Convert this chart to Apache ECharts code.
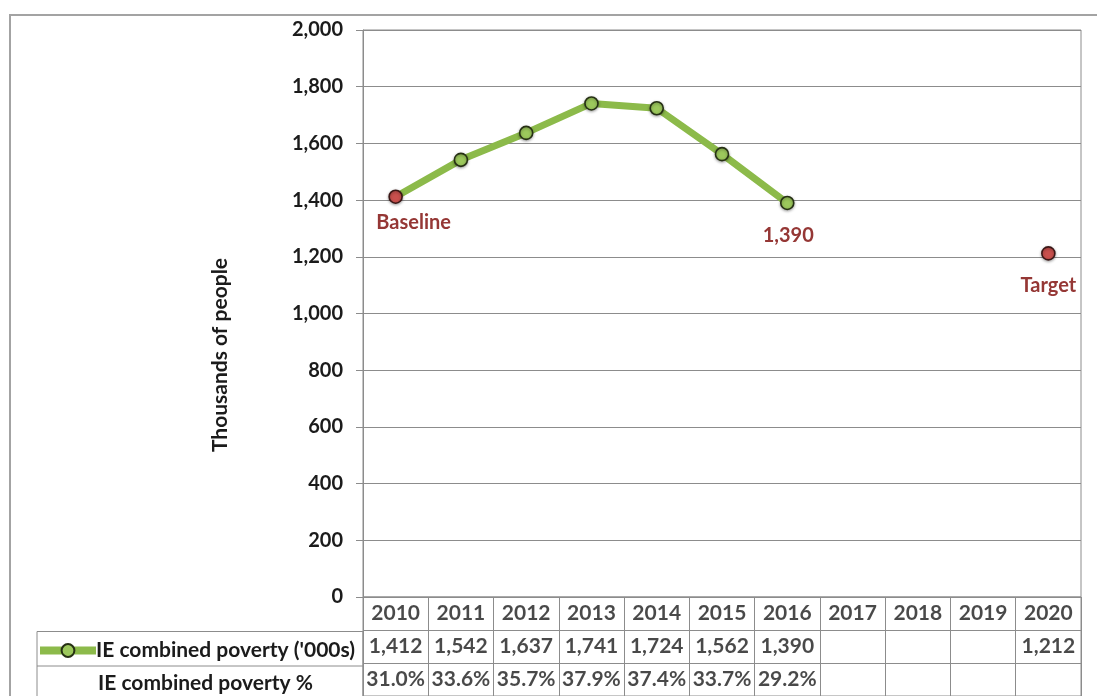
<!DOCTYPE html>
<html>
<head>
<meta charset="utf-8">
<title>IE combined poverty</title>
<script src="https://cdn.jsdelivr.net/npm/echarts@6/dist/echarts.min.js"></script>
<style>
  html, body { margin: 0; padding: 0; background: #ffffff; }
  #chart { width: 1097px; height: 696px; }
</style>
</head>
<body>
<div id="chart"></div>
<script>
// ---- data ----
const years = ['2010', '2011', '2012', '2013', '2014', '2015', '2016', '2017', '2018', '2019', '2020'];
const povertyThousands = [1412, 1542, 1637, 1741, 1724, 1562, 1390, null, null, null, 1212];
const povertyPct = [31.0, 33.6, 35.7, 37.9, 37.4, 33.7, 29.2, null, null, null, null];
const seriesName = "IE combined poverty ('000s)";
const pctRowName = 'IE combined poverty %';
const axisTitle = 'Thousands of people';
const yMin = 0, yMax = 2000, yStep = 200;
// notes written under particular points (index -> text; '' means show the value)
const pointNotes = { 0: 'Baseline', 6: '', 10: 'Target' };
const redPoints = [0, 10];

// ---- styles ----
const FONT = 'Lato';
const FS = 21;
const GRID_GRAY = '#8c8c8c';
const TEXT = '#1b1b1b';
const NOTE_RED = '#953735';
const GREEN = '#8cba4a';
const GREEN_DOT = '#9cc85c';
const RED_DOT = '#c9504d';

const fmtNum = v => (v == null ? '' : v.toLocaleString('en-US'));
const fmtPct = v => (v == null ? '' : v.toFixed(1) + '%');

const noteOffsets = { 0: [18, 4], 6: [1, 10], 10: [0, 10] };

const lineData = povertyThousands.map((v, i) => {
  const item = { value: v };
  if (redPoints.includes(i)) {
    item.itemStyle = { color: RED_DOT, borderColor: '#3b1716' };
  }
  if (i in pointNotes) {
    item.label = {
      show: true,
      position: 'bottom',
      offset: noteOffsets[i],
      formatter: pointNotes[i] === '' ? fmtNum(v) : pointNotes[i],
      color: NOTE_RED,
      fontFamily: FONT,
      fontWeight: 'bold',
      fontSize: 20
    };
  }
  return item;
});

// table cells beneath the plot: row 0 = years, row 1 = values, row 2 = percentages
const tableCells = [];
years.forEach((y, i) => {
  tableCells.push([i, 0, y]);
  tableCells.push([i, 1, fmtNum(povertyThousands[i])]);
  tableCells.push([i, 2, fmtPct(povertyPct[i])]);
});

const PLOT_L = 363, PLOT_R = 16, PLOT_T = 30, PLOT_B = 597;
const ROW_H = 34.5;

const chart = echarts.init(document.getElementById('chart'), null, { renderer: 'canvas' });

chart.setOption({
  backgroundColor: '#ffffff',
  animation: false,
  textStyle: { fontFamily: FONT },
  grid: [
    { left: PLOT_L, right: PLOT_R, top: PLOT_T, height: PLOT_B - PLOT_T,
      show: true, borderColor: GRID_GRAY, borderWidth: 1, containLabel: false },
    { left: PLOT_L, right: PLOT_R, top: PLOT_B, height: ROW_H * 3,
      show: true, borderColor: GRID_GRAY, borderWidth: 1, containLabel: false }
  ],
  legend: {
    left: 36, top: 640, padding: 0,
    itemWidth: 56, itemHeight: 16, itemGap: 0,
    selectedMode: false,
    data: [seriesName],
    lineStyle: { width: 8 },
    textStyle: { color: TEXT, fontFamily: FONT, fontWeight: 'bold', fontSize: FS, padding: [0, 0, 0, -5] }
  },
  xAxis: [
    { type: 'category', gridIndex: 0, data: years, boundaryGap: true,
      axisLine: { show: false }, axisTick: { show: false },
      axisLabel: { show: false }, splitLine: { show: false } },
    { type: 'category', gridIndex: 1, data: years, boundaryGap: true,
      axisLine: { show: false }, axisTick: { show: false },
      axisLabel: { show: false },
      splitLine: { show: true, lineStyle: { color: GRID_GRAY, width: 1 } } }
  ],
  yAxis: [
    { type: 'value', gridIndex: 0, min: yMin, max: yMax, interval: yStep,
      axisLine: { show: true, lineStyle: { color: GRID_GRAY, width: 1 } },
      axisTick: { show: true, length: 7, inside: false, lineStyle: { color: GRID_GRAY } },
      axisLabel: { margin: 20, color: TEXT, fontFamily: FONT, fontWeight: 'bold', fontSize: 20,
        formatter: v => v.toLocaleString('en-US') },
      splitLine: { show: true, lineStyle: { color: GRID_GRAY, width: 1 } } },
    { type: 'category', gridIndex: 1, data: ['year', 'value', 'pct'], inverse: true,
      boundaryGap: true,
      axisLine: { show: false }, axisTick: { show: false }, axisLabel: { show: false },
      splitLine: { show: true, lineStyle: { color: GRID_GRAY, width: 1 } } }
  ],
  series: [
    {
      name: seriesName,
      type: 'line',
      xAxisIndex: 0, yAxisIndex: 0,
      data: lineData,
      connectNulls: false,
      symbol: 'circle',
      symbolSize: 13,
      showAllSymbol: true,
      lineStyle: { color: GREEN, width: 7 },
      itemStyle: { color: GREEN_DOT, borderColor: '#263014', borderWidth: 1.6,
        shadowColor: 'rgba(0,0,0,0.35)', shadowBlur: 3, shadowOffsetY: 1 },
      emphasis: { disabled: true },
      z: 5
    },
    {
      name: 'table',
      type: 'scatter',
      xAxisIndex: 1, yAxisIndex: 1,
      data: tableCells,
      symbolSize: 0,
      silent: true,
      label: {
        show: true, position: 'inside',
        formatter: p => p.value[2],
        color: TEXT, fontFamily: FONT, fontWeight: 'bold', fontSize: FS
      },
      emphasis: { disabled: true }
    }
  ],
  graphic: [
    // outer chart frame
    { type: 'rect', shape: { x: 10, y: 15, width: 1200, height: 800 },
      style: { fill: 'none', stroke: '#a3a3a3', lineWidth: 2 }, silent: true },
    // vertical axis title
    { type: 'text', x: 220, y: 355, rotation: Math.PI / 2,
      style: { text: axisTitle, fill: TEXT, font: 'bold 21px ' + FONT,
        align: 'center', verticalAlign: 'middle' }, silent: true },
    // row-header cells of the data table
    { type: 'rect', shape: { x: 37, y: PLOT_B + ROW_H, width: PLOT_L - 37, height: ROW_H * 2 },
      style: { fill: 'none', stroke: GRID_GRAY, lineWidth: 1 }, silent: true },
    { type: 'line', shape: { x1: 37, y1: PLOT_B + ROW_H * 2, x2: PLOT_L, y2: PLOT_B + ROW_H * 2 },
      style: { stroke: GRID_GRAY, lineWidth: 1 }, silent: true },
    { type: 'text', left: 98, top: PLOT_B + ROW_H * 2 + 7,
      style: { text: pctRowName, fill: TEXT, font: 'bold ' + FS + 'px ' + FONT }, silent: true }
  ]
});
</script>
</body>
</html>
